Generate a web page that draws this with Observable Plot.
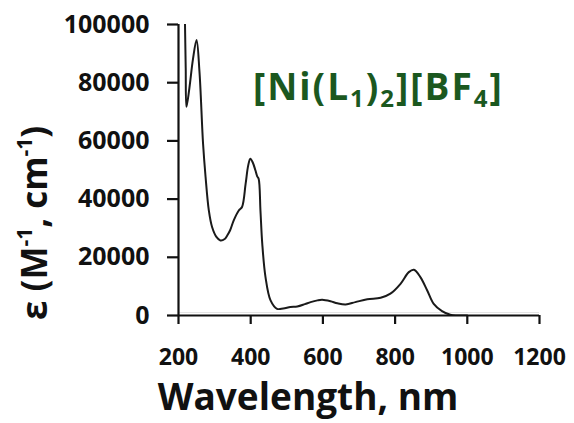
<!DOCTYPE html>
<html>
<head>
<meta charset="utf-8">
<script src="https://cdn.jsdelivr.net/npm/d3@7"></script>
<script src="https://cdn.jsdelivr.net/npm/@observablehq/plot@0.6"></script>
<style>
  html, body { margin: 0; padding: 0; background: #fff; }
  #chart svg { display: block; }
</style>
</head>
<body>
<div id="chart"></div>
<script>
// Wavelength (nm) and molar absorptivity ε (M^-1 cm^-1)
const wavelength = [218, 220, 222, 230, 240, 250, 258, 268, 275, 284, 293, 305, 316, 328, 335, 343, 353, 367, 376, 386, 393, 399, 406, 413, 418, 422, 427, 432, 441, 455, 473, 490, 510, 529, 550, 566, 585, 598, 621, 640, 663, 690, 723, 760, 787, 815, 838, 852, 870, 889, 907, 930, 953, 1000];
const epsilon    = [100000, 85000, 71700, 78000, 88000, 94700, 84000, 59100, 47600, 36100, 30400, 27000, 25800, 26300, 27500, 29300, 32700, 36100, 37300, 45300, 51500, 53900, 52500, 49900, 47800, 47000, 36100, 24700, 13200, 5200, 2300, 2400, 2900, 3100, 3900, 4600, 5200, 5400, 4900, 4200, 3800, 4600, 5600, 6100, 7500, 10900, 14900, 15700, 13200, 8600, 4000, 1500, 300, 0];

const xTicks = [200, 400, 600, 800, 1000, 1200];
const yTicks = [0, 20000, 40000, 60000, 80000, 100000];

const xTitle = "Wavelength, nm";
const chartTitle = ["[Ni(L", "1", ")", "2", "][BF", "4", "]"];

const data = wavelength.map((w, i) => ({w, e: epsilon[i]}));

const FONT = "'Open Sans', 'DejaVu Sans', sans-serif";

const svg = Plot.plot({
  width: 574,
  height: 423,
  marginLeft: 178,
  marginRight: 35,
  marginTop: 24,
  marginBottom: 108,
  style: {fontFamily: FONT, fontWeight: "bold", background: "#fff", color: "#111"},
  x: {domain: [200, 1200]},
  y: {domain: [0, 100000]},
  marks: [
    Plot.ruleY([0], {x1: 200, x2: 1200, dy: -3, stroke: "#e4e4e4", strokeWidth: 1}),
    Plot.line(data, {x: "w", y: "e", stroke: "#1a1a1a", strokeWidth: 2, clip: true, curve: "catmull-rom"}),
    Plot.ruleY([0], {x1: 200, x2: 1200, stroke: "#111", strokeWidth: 2.2}),
    Plot.ruleX([200], {y1: 0, y2: 100000, stroke: "#111", strokeWidth: 2.2}),
    Plot.axisX({ticks: xTicks, tickSize: 9, tickPadding: 24, fontSize: 23, strokeWidth: 2.2, stroke: "#111", label: null, tickFormat: d => String(d)}),
    Plot.axisY({ticks: yTicks, tickSize: 11, tickPadding: 18, fontSize: 25, strokeWidth: 2.2, stroke: "#111", label: null, tickFormat: d => String(d)})
  ]
});

const s = d3.select(svg);

// x-axis title
s.append("text")
  .attr("x", 308).attr("y", 410)
  .attr("text-anchor", "middle")
  .style("font-family", FONT).style("font-weight", "bold").style("font-size", "37px")
  .attr("fill", "#111")
  .text(xTitle);

// y-axis title with superscripts
const yt = s.append("text")
  .attr("transform", "translate(47,320) rotate(-90)")
  .attr("text-anchor", "start")
  .style("font-family", FONT).style("font-weight", "bold").style("font-size", "35px")
  .attr("fill", "#111");
yt.append("tspan").text("ε (M");
yt.append("tspan").attr("dy", "-15").style("font-size", "21px").text("-1");
yt.append("tspan").attr("dy", "15").text(", cm");
yt.append("tspan").attr("dy", "-15").style("font-size", "21px").text("-1");
yt.append("tspan").attr("dy", "15").text(")");

// chart title with subscripts
const tt = s.append("text")
  .attr("x", 253).attr("y", 100)
  .attr("text-anchor", "start")
  .style("font-family", FONT).style("font-weight", "bold").style("font-size", "37px")
  .style("letter-spacing", "2px")
  .attr("fill", "#1b581f");
chartTitle.forEach((part, i) => {
  const sub = i % 2 === 1;
  const t = tt.append("tspan").text(part);
  if (sub) t.style("font-size", "24px").attr("dy", "7");
  else if (i > 0) t.attr("dy", "-7");
});

document.getElementById("chart").appendChild(svg);
</script>
</body>
</html>
